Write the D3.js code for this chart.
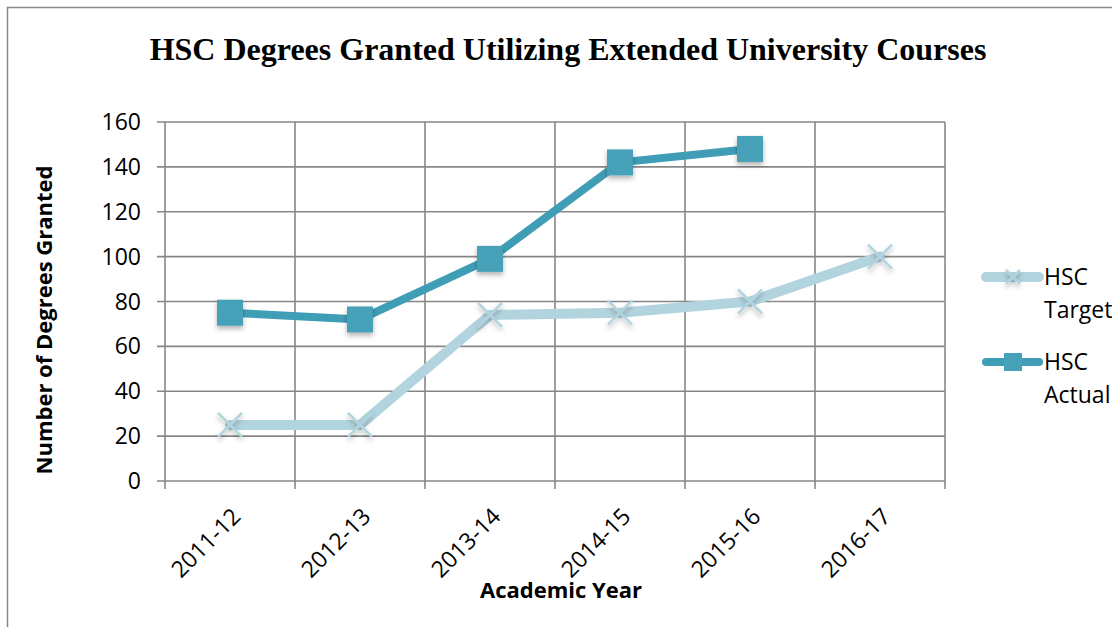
<!DOCTYPE html>
<html>
<head>
<meta charset="utf-8">
<script src="https://cdn.jsdelivr.net/npm/d3@7"></script>
<style>
  body { margin: 0; background: #fff; }
  svg { display: block; }
</style>
</head>
<body>
<script>
// chart data
var years = ["2011-12", "2012-13", "2013-14", "2014-15", "2015-16", "2016-17"];
var targetVals = [25, 25, 74, 75, 80, 100];
var actualVals = [75, 72, 99, 142, 148, null];
var yTicks = [0, 20, 40, 60, 80, 100, 120, 140, 160];

var width = 1112, height = 627;
var plotL = 165, plotR = 945, plotT = 122, plotB = 481;
var fontSans = "'Open Sans', sans-serif";

var svg = d3.select("body").append("svg")
  .attr("width", width)
  .attr("height", height);

var defs = svg.append("defs");
var shadow = defs.append("filter").attr("id", "shadow")
  .attr("x", "-50%").attr("y", "-50%").attr("width", "200%").attr("height", "200%");
shadow.append("feDropShadow")
  .attr("dx", 0).attr("dy", 3).attr("stdDeviation", 2.5)
  .attr("flood-color", "#000").attr("flood-opacity", 0.3);

// outer frame
svg.append("rect")
  .attr("x", 7.5).attr("y", 7.5)
  .attr("width", 1200).attr("height", 700)
  .attr("fill", "#fff").attr("stroke", "#888").attr("stroke-width", 1.5);

// title
svg.append("text")
  .attr("x", 568).attr("y", 60)
  .attr("text-anchor", "middle")
  .style("font-family", "'Liberation Serif', 'Times New Roman', serif")
  .style("font-weight", "bold")
  .style("font-size", "32px")
  .text("HSC Degrees Granted Utilizing Extended University Courses");

var x = d3.scaleBand().domain(years).range([plotL, plotR]);
var y = d3.scaleLinear().domain([0, 160]).range([plotB, plotT]);

// horizontal grid
svg.append("g").selectAll("line")
  .data(yTicks)
  .enter().append("line")
  .attr("x1", plotL - 8).attr("x2", plotR)
  .attr("y1", function(d){ return y(d); })
  .attr("y2", function(d){ return y(d); })
  .attr("stroke", "#878787").attr("stroke-width", 1.6);

// vertical grid at category boundaries
var bounds = years.map(function(d){ return x(d); }).concat([plotR]);
svg.append("g").selectAll("line")
  .data(bounds)
  .enter().append("line")
  .attr("x1", function(d){ return d; }).attr("x2", function(d){ return d; })
  .attr("y1", plotT).attr("y2", plotB + 8)
  .attr("stroke", "#878787").attr("stroke-width", 1.6);

// y tick labels
svg.append("g").selectAll("text")
  .data(yTicks)
  .enter().append("text")
  .attr("x", plotL - 24)
  .attr("y", function(d){ return y(d) + 8; })
  .attr("text-anchor", "end")
  .style("font-family", fontSans)
  .style("font-size", "23px")
  .text(function(d){ return d; });

// x tick labels
svg.append("g").selectAll("text")
  .data(years)
  .enter().append("text")
  .attr("transform", function(d){
    return "translate(" + (x(d) + x.bandwidth() / 2 + 12) + "," + (plotB + 37) + ") rotate(-45)";
  })
  .attr("text-anchor", "end")
  .style("font-family", fontSans)
  .style("font-size", "23px")
  .text(function(d){ return d; });

// axis titles
svg.append("text")
  .attr("transform", "translate(52,320) rotate(-90)")
  .attr("text-anchor", "middle")
  .style("font-family", fontSans)
  .style("font-weight", "bold")
  .style("font-size", "22px")
  .text("Number of Degrees Granted");

svg.append("text")
  .attr("x", 561).attr("y", 598)
  .attr("text-anchor", "middle")
  .style("font-family", fontSans)
  .style("font-weight", "bold")
  .style("font-size", "22px")
  .text("Academic Year");

var cx = function(i){ return x(years[i]) + x.bandwidth() / 2; };

// target series
var targetColor = "#b2d4df";
var targetLine = d3.line()
  .x(function(d, i){ return cx(i); })
  .y(function(d){ return y(d); });

svg.append("path")
  .datum(targetVals)
  .attr("d", targetLine)
  .attr("fill", "none")
  .attr("stroke", targetColor)
  .attr("stroke-width", 10)
  .attr("stroke-linecap", "round")
  .attr("stroke-linejoin", "round");

function drawCross(g, px, py, s){
  g.append("path")
    .attr("d", "M" + (px - s) + "," + (py - s) + "L" + (px + s) + "," + (py + s) +
               "M" + (px - s) + "," + (py + s) + "L" + (px + s) + "," + (py - s))
    .attr("stroke", targetColor)
    .attr("stroke-width", 2.5)
    .attr("fill", "none")
    .attr("filter", "url(#shadow)");
}

var crosses = svg.append("g");
targetVals.forEach(function(v, i){
  drawCross(crosses, cx(i), y(v), 12);
});

// actual series
var actualColor = "#3f9db6";
var actualLine = d3.line()
  .defined(function(d){ return d != null; })
  .x(function(d, i){ return cx(i); })
  .y(function(d){ return y(d); });

svg.append("path")
  .datum(actualVals)
  .attr("d", actualLine)
  .attr("fill", "none")
  .attr("stroke", actualColor)
  .attr("stroke-width", 8)
  .attr("stroke-linecap", "round")
  .attr("stroke-linejoin", "round");

svg.append("g").selectAll("rect")
  .data(actualVals.filter(function(d){ return d != null; }))
  .enter().append("rect")
  .attr("x", function(d, i){ return cx(i) - 13; })
  .attr("y", function(d){ return y(d) - 13; })
  .attr("width", 26).attr("height", 26)
  .attr("fill", "#46a2b9")
  .attr("filter", "url(#shadow)");

// legend
var legend = svg.append("g");
var ly1 = 277, ly2 = 362;
legend.append("line")
  .attr("x1", 986).attr("x2", 1039).attr("y1", ly1).attr("y2", ly1)
  .attr("stroke", targetColor).attr("stroke-width", 10).attr("stroke-linecap", "round");
drawCross(legend, 1013, ly1, 7);
legend.append("line")
  .attr("x1", 986).attr("x2", 1039).attr("y1", ly2).attr("y2", ly2)
  .attr("stroke", actualColor).attr("stroke-width", 8).attr("stroke-linecap", "round");
legend.append("rect")
  .attr("x", 1004).attr("y", ly2 - 9).attr("width", 18).attr("height", 18)
  .attr("fill", "#46a2b9");

var legendText = [["HSC", "Target"], ["HSC", "Actual"]];
legendText.forEach(function(lines, k){
  legend.append("text")
    .style("font-family", fontSans)
    .style("font-size", "23px")
    .selectAll("tspan")
    .data(lines)
    .enter().append("tspan")
    .attr("x", 1044)
    .attr("y", function(d, j){ return (k === 0 ? ly1 : ly2) + 8 + j * 33; })
    .text(function(d){ return d; });
});
</script>
</body>
</html>
